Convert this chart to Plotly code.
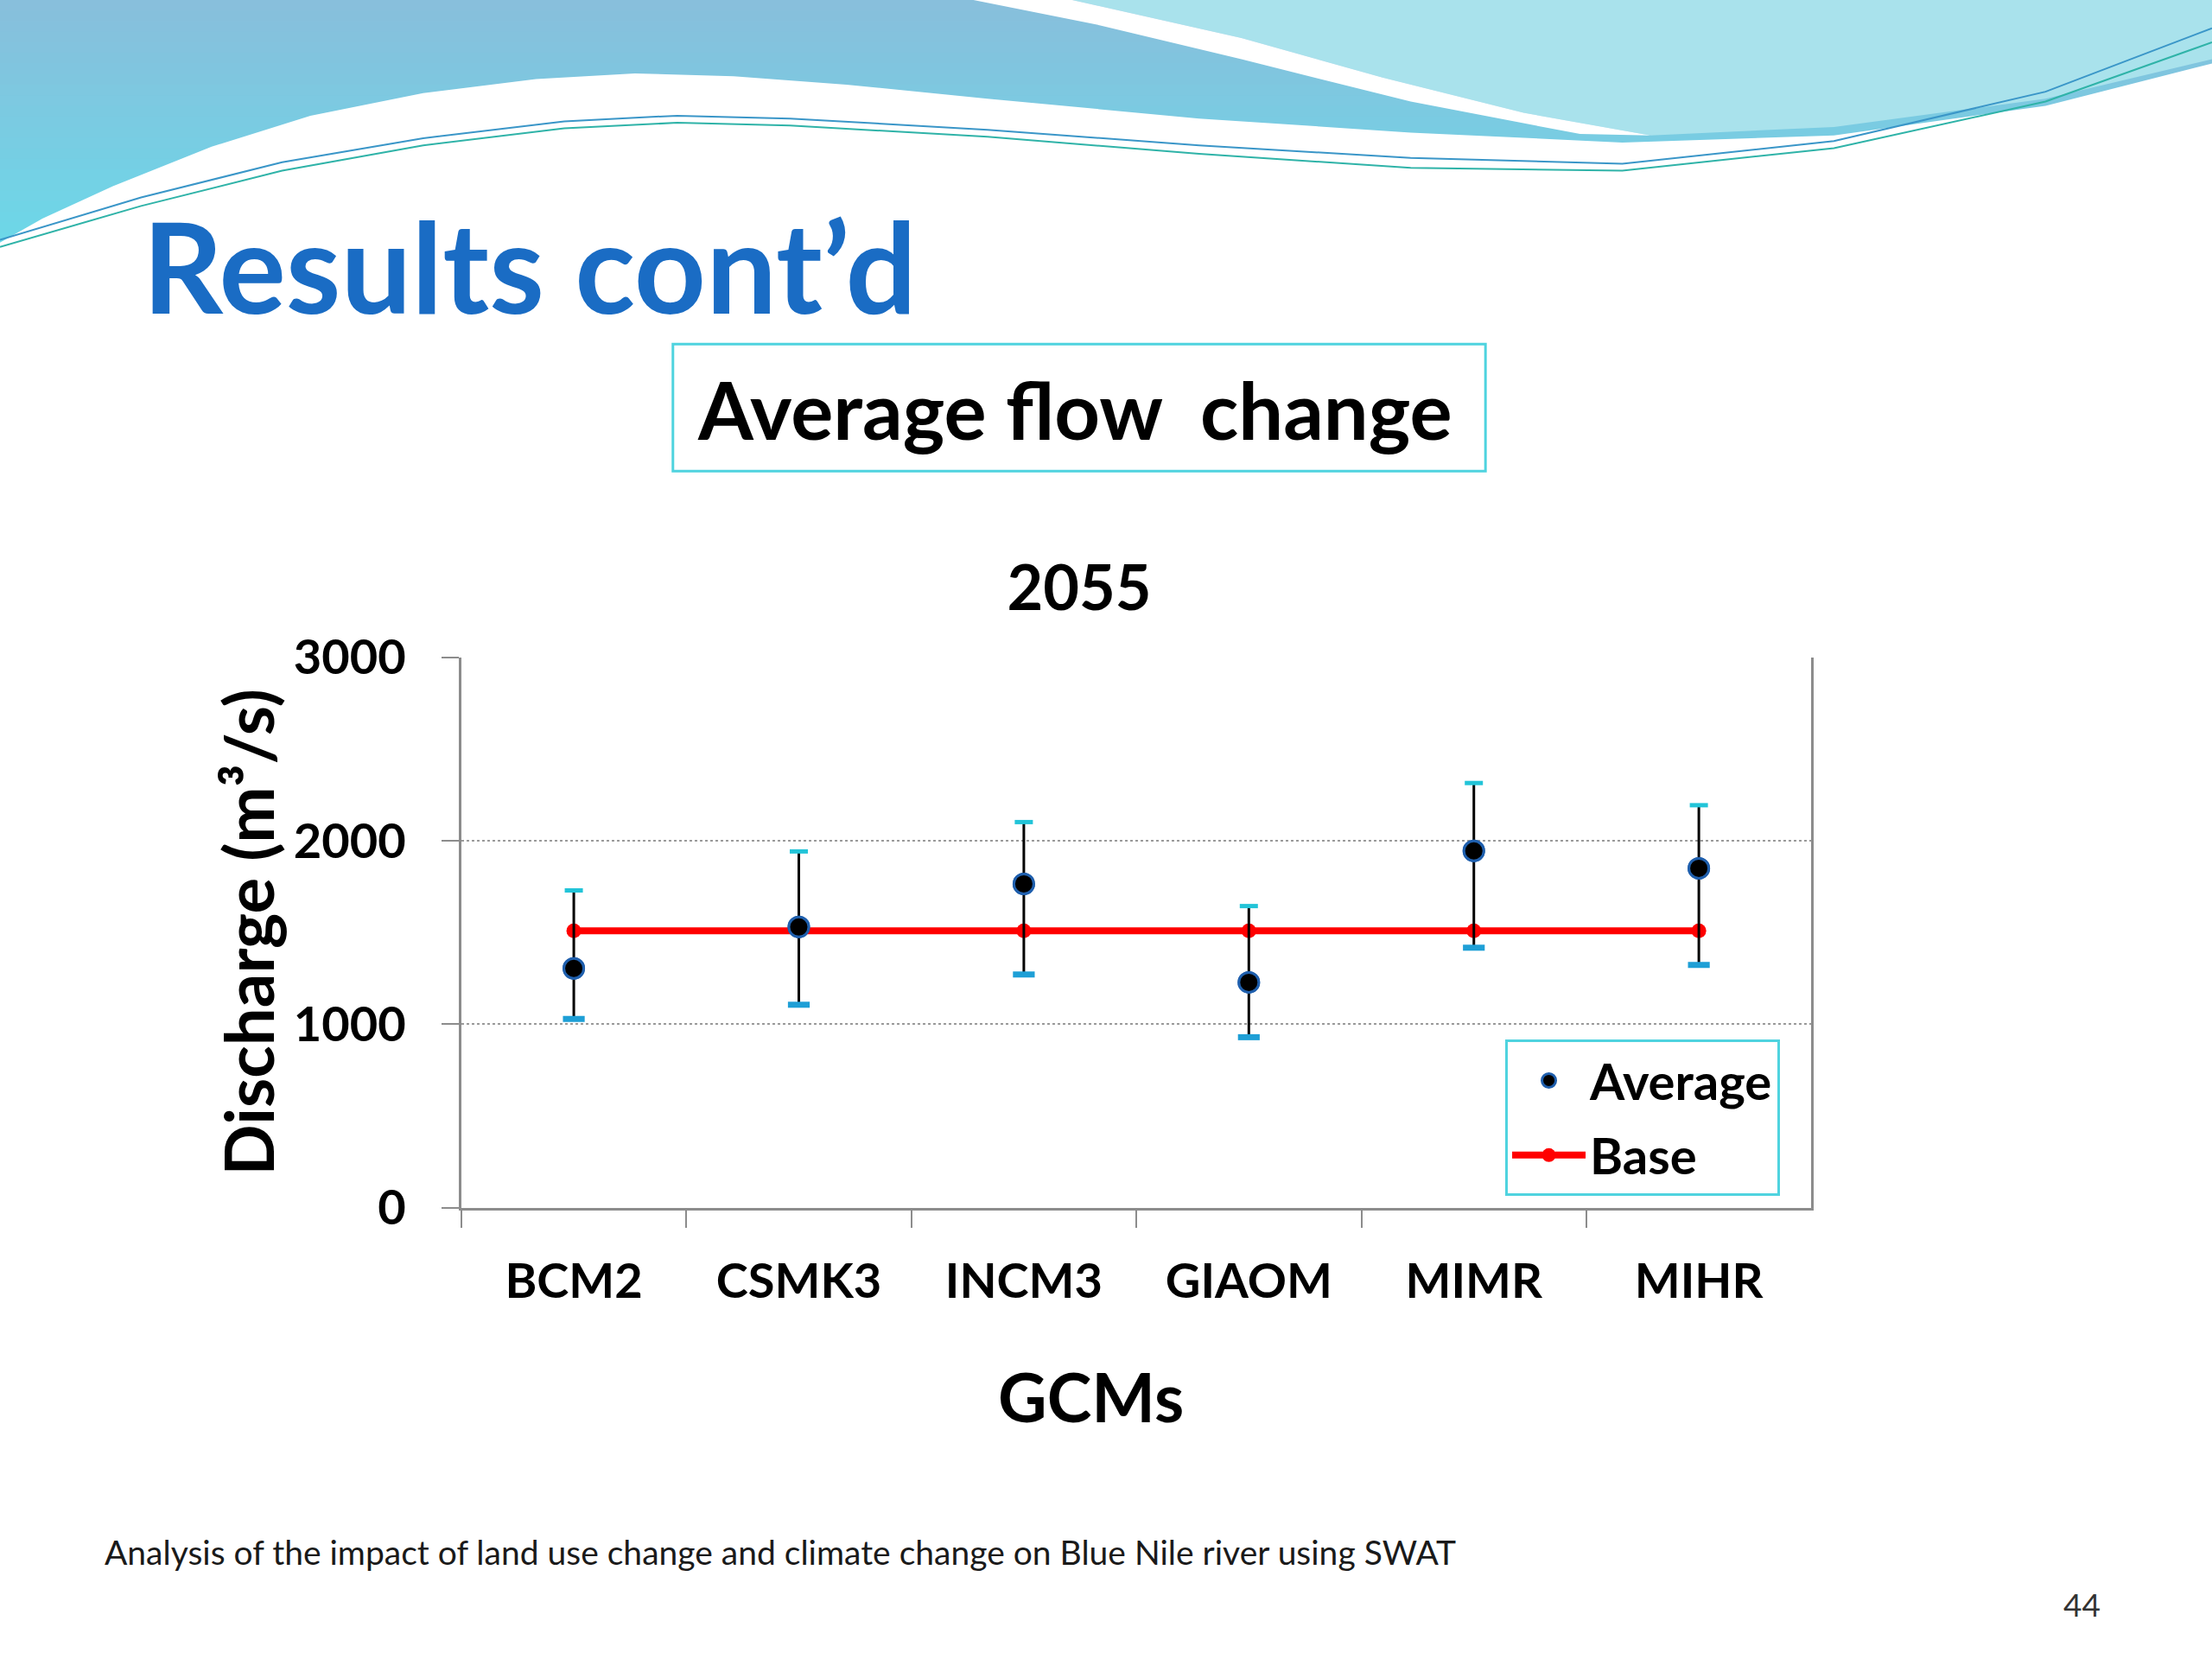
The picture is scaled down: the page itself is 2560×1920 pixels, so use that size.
import plotly.graph_objects as go

# ---------------- data ----------------
gcms = ["BCM2", "CSMK3", "INCM3", "GIAOM", "MIMR", "MIHR"]
average = [1304, 1530, 1765, 1228, 1945, 1850]
upper = [1729, 1942, 2102, 1644, 2315, 2194]
lower = [1028, 1106, 1271, 929, 1417, 1323]
base = [1509, 1509, 1509, 1509, 1509, 1509]
y_ticks = [0, 1000, 2000, 3000]

err_plus = [u - a for u, a in zip(upper, average)]
err_minus = [a - l for a, l in zip(average, lower)]

W, H = 2560, 1920
FONT = "Lato"


def px(xd):
    return xd / 1568.0


def py(yd):
    return 1 - yd / 1176.0


def path(points, close=True):
    s = "M {:.5f},{:.5f}".format(px(points[0][0]), py(points[0][1]))
    for x, y in points[1:]:
        s += " L {:.5f},{:.5f}".format(px(x), py(y))
    return s + (" Z" if close else "")


fig = go.Figure()

fig.add_trace(go.Scatter(
    x=gcms, y=base, name="Base", mode="lines+markers",
    line=dict(color="#FF0000", width=8),
    marker=dict(color="#FF0000", size=17),
    legendgroup="b", legendrank=2,
))

fig.add_trace(go.Scatter(
    x=gcms, y=average, name="Average", mode="markers",
    marker=dict(color="#000000", size=23, line=dict(color="#1F5FAD", width=3)),
    error_y=dict(type="data", symmetric=False, array=err_plus, arrayminus=err_minus,
                 color="#000000", thickness=3, width=0),
    legendgroup="a", legendrank=1,
))

fig.add_trace(go.Scatter(
    x=gcms, y=upper, mode="markers", showlegend=False, hoverinfo="skip",
    marker=dict(symbol="line-ew", size=15, line=dict(color="#22C4D8", width=5)),
))
fig.add_trace(go.Scatter(
    x=gcms, y=lower, mode="markers", showlegend=False, hoverinfo="skip",
    marker=dict(symbol="line-ew", size=18, line=dict(color="#1E9FD6", width=7)),
))

fig.add_trace(go.Scatter(
    x=gcms, y=average, mode="markers", showlegend=False, hoverinfo="skip",
    marker=dict(color="#000000", size=23, line=dict(color="#1F5FAD", width=3)),
))

shapes = []
# header decoration: vertical gradient strips
c0 = (0x88, 0xBF, 0xDC)
c1 = (0x6C, 0xD9, 0xE9)
n = 24
for i in range(n):
    t = i / (n - 1)
    col = "rgb({},{},{})".format(*[int(a + (b - a) * t) for a, b in zip(c0, c1)])
    y0 = 180 * i / n
    y1 = 180 * (i + 1) / n + 0.5
    shapes.append(dict(type="rect", xref="paper", yref="paper", x0=0, x1=1,
                       y0=py(y1), y1=py(y0), fillcolor=col, line=dict(width=0), layer="below"))
white_pts = [(0, 182), (0, 172), (30, 155), (80, 132), (150, 104), (220, 82), (300, 66),
             (380, 56), (450, 52), (520, 54), (600, 60), (700, 70), (850, 84), (1000, 94),
             (1150, 101), (1300, 96), (1450, 75), (1568, 45), (1568, 182)]
shapes.append(dict(type="path", path=path(white_pts), xref="paper", yref="paper",
                   fillcolor="#FFFFFF", line=dict(width=0), layer="below"))
light_pts = [(760, 0), (1568, 0), (1568, 42), (1450, 70), (1300, 90), (1170, 96),
             (1080, 80), (980, 55), (880, 27)]
shapes.append(dict(type="path", path=path(light_pts), xref="paper", yref="paper",
                   fillcolor="#A9E2EC", line=dict(width=0), layer="below"))
swoosh_pts = [(690, 0), (760, 0), (880, 27), (980, 55), (1080, 80), (1170, 96),
              (1120, 95), (1000, 72), (880, 42), (780, 18)]
shapes.append(dict(type="path", path=path(swoosh_pts), xref="paper", yref="paper",
                   fillcolor="#FFFFFF", line=dict(width=0), layer="below"))
wave1 = [(0, 170), (100, 140), (200, 115), (300, 98), (400, 86), (480, 82), (560, 84),
         (700, 92), (850, 103), (1000, 112), (1150, 116), (1300, 100), (1450, 65), (1568, 20)]
wave2 = [(0, 175), (100, 146), (200, 121), (300, 103), (400, 91), (480, 87), (560, 89),
         (700, 97), (850, 109), (1000, 119), (1150, 121), (1300, 105), (1450, 72), (1568, 30)]
shapes.append(dict(type="path", path=path(wave1, False), xref="paper", yref="paper",
                   line=dict(color="#3A96C8", width=2), layer="below"))
shapes.append(dict(type="path", path=path(wave2, False), xref="paper", yref="paper",
                   line=dict(color="#2FB3A8", width=2), layer="below"))

shapes.append(dict(type="rect", xref="paper", yref="paper",
                   x0=px(477), x1=px(1053), y0=py(334), y1=py(244),
                   line=dict(color="#4FD3DF", width=3), fillcolor="rgba(0,0,0,0)"))

annotations = [
    dict(text="Results cont’d", x=px(100), y=py(188), xref="paper", yref="paper",
         xanchor="left", yanchor="middle", showarrow=False,
         font=dict(family=FONT, size=145, color="#1A6CC4", weight="bold")),
    dict(text="Average flow  change", x=px(762), y=py(290), xref="paper", yref="paper",
         xanchor="center", yanchor="middle", showarrow=False,
         font=dict(family=FONT, size=92, color="#000000", weight="bold")),
    dict(text="Discharge (m³/s)", x=px(176), y=py(661), xref="paper", yref="paper",
         xanchor="center", yanchor="middle", showarrow=False, textangle=-90,
         font=dict(family=FONT, size=78, color="#000000", weight="bold")),
    dict(text="GCMs", x=px(773), y=py(990), xref="paper", yref="paper",
         xanchor="center", yanchor="middle", showarrow=False,
         font=dict(family=FONT, size=78, color="#000000", weight="bold")),
    dict(text="Analysis of the impact of land use change and climate change on Blue Nile river using SWAT",
         x=px(73), y=py(1100), xref="paper", yref="paper",
         xanchor="left", yanchor="middle", showarrow=False,
         font=dict(family=FONT, size=39, color="#1A1A1A")),
    dict(text="44", x=px(1476), y=py(1137), xref="paper", yref="paper",
         xanchor="center", yanchor="middle", showarrow=False,
         font=dict(family=FONT, size=37, color="#333333")),
]

fig.update_layout(
    width=W, height=H, autosize=False,
    margin=dict(l=0, r=0, t=0, b=0, pad=0, autoexpand=False),
    paper_bgcolor="#FFFFFF", plot_bgcolor="#FFFFFF",
    title=dict(text="2055", x=px(765), y=py(417), xref="paper", yref="container",
               xanchor="center", yanchor="middle", automargin=False,
               font=dict(family=FONT, size=72, color="#000000", weight="bold")),
    xaxis=dict(domain=[px(327), px(1284)], type="category", automargin=False,
               range=[-0.5, len(gcms) - 0.5],
               showline=True, linecolor="#8C8C8C", linewidth=3,
               ticks="outside", tickson="boundaries", ticklen=20, tickwidth=2,
               tickcolor="#8C8C8C", showgrid=False, ticklabelstandoff=34,
               tickfont=dict(family=FONT, size=56, color="#000000", weight="bold")),
    yaxis=dict(domain=[py(856), py(466)], range=[0, 3000], tickvals=y_ticks, automargin=False,
               showline=True, linecolor="#8C8C8C", linewidth=3, mirror=True,
               ticks="outside", ticklen=20, tickwidth=2, tickcolor="#8C8C8C",
               showgrid=True, gridcolor="#9A9A9A", gridwidth=2, griddash="dot",
               zeroline=False, ticklabelstandoff=30,
               tickfont=dict(family=FONT, size=56, color="#000000", weight="bold")),
    legend=dict(x=px(1067), y=py(737), xanchor="left", yanchor="top",
                bgcolor="#FFFFFF", bordercolor="#4FD3DF", borderwidth=3,
                traceorder="grouped", tracegroupgap=8, itemwidth=85,
                font=dict(family=FONT, size=58, color="#000000", weight="bold")),
    shapes=shapes,
    annotations=annotations,
    showlegend=True,
)

fig.write_html(
    "out.html",
    config={"displayModeBar": False},
    post_script="document.body.style.margin='0';",
)
